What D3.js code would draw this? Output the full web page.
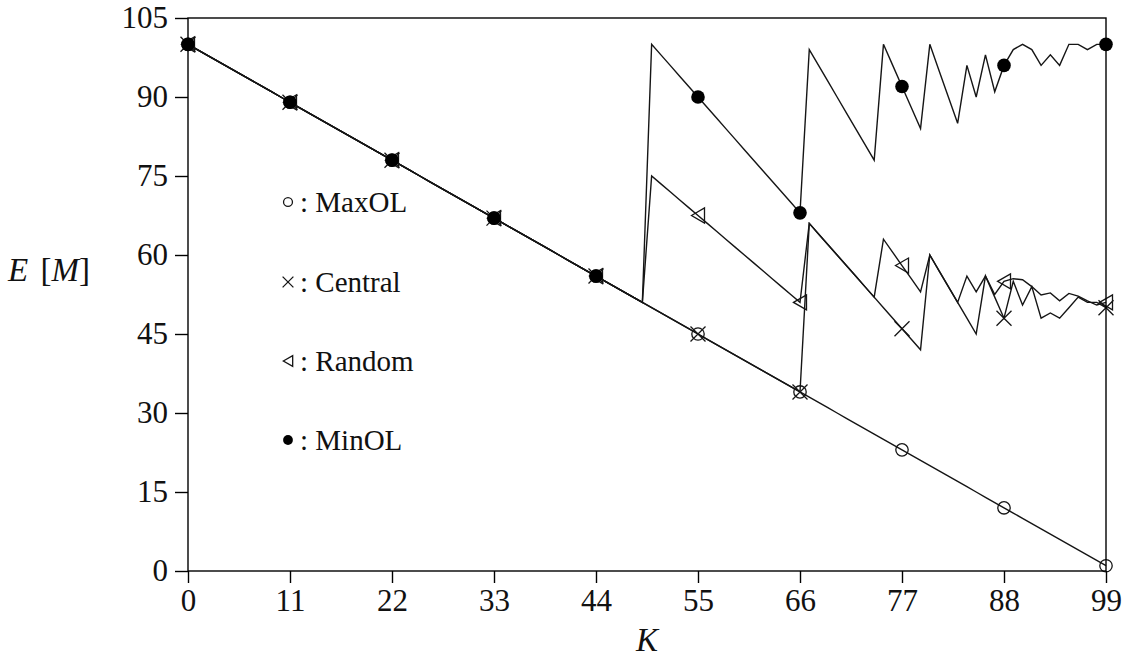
<!DOCTYPE html>
<html>
<head>
<meta charset="utf-8">
<script src="https://cdn.jsdelivr.net/npm/d3@7"></script>
<style>
  html, body { margin: 0; padding: 0; background: #fff; }
  svg { display: block; }
  text { font-family: "Liberation Serif", "DejaVu Serif", serif; fill: #111; }
</style>
</head>
<body>
<svg id="chart" width="1126" height="666"></svg>
<script>
// ---------- data ----------
const kValues = d3.range(0, 100);
const xTicks = [0, 11, 22, 33, 44, 55, 66, 77, 88, 99];
const yTicks = [0, 15, 30, 45, 60, 75, 90, 105];

const maxOL = [100,99,98,97,96,95,94,93,92,91,90,89,88,87,86,85,84,83,82,81,
  80,79,78,77,76,75,74,73,72,71,70,69,68,67,66,65,64,63,62,61,
  60,59,58,57,56,55,54,53,52,51,50,49,48,47,46,45,44,43,42,41,
  40,39,38,37,36,35,34,33,32,31,30,29,28,27,26,25,24,23,22,21,
  20,19,18,17,16,15,14,13,12,11,10,9,8,7,6,5,4,3,2,1];

const central = [100,99,98,97,96,95,94,93,92,91,90,89,88,87,86,85,84,83,82,81,
  80,79,78,77,76,75,74,73,72,71,70,69,68,67,66,65,64,63,62,61,
  60,59,58,57,56,55,54,53,52,51,50,49,48,47,46,45,44,43,42,41,
  40,39,38,37,36,35,34,66,64,62,60,58,56,54,52,50,48,46,44,42,
  60,57,54,51,48,45,56,52,48,55,50.5,54,48,49,48,50,52,51,51,50];

const random = [100,99,98,97,96,95,94,93,92,91,90,89,88,87,86,85,84,83,82,81,
  80,79,78,77,76,75,74,73,72,71,70,69,68,67,66,65,64,63,62,61,
  60,59,58,57,56,55,54,53,52,51,75,73.5,72,70.5,69,67.5,66,64.5,63,61.5,
  60,58.5,57,55.5,54,52.5,51,66,64,62,60,58,56,54,52,63,60.5,58,55.5,53,
  60,57,54,51,56,53,56,52.5,55,55.5,55.3,54,52.4,52.8,51.3,52.7,52.2,51.3,50.5,51];

const minOL = [100,99,98,97,96,95,94,93,92,91,90,89,88,87,86,85,84,83,82,81,
  80,79,78,77,76,75,74,73,72,71,70,69,68,67,66,65,64,63,62,61,
  60,59,58,57,56,55,54,53,52,51,100,98,96,94,92,90,88,86,84,82,
  80,78,76,74,72,70,68,99,96,93,90,87,84,81,78,100,96,92,88,84,
  100,95,90,85,96,90,98,91,96,99,100,99,96,98,96,100,100,99,100,100];

const seriesNames = ["MaxOL", "Central", "Random", "MinOL"];
const seriesValues = [maxOL, central, random, minOL];
const markerTypes = ["circle", "cross", "triangle", "dot"];

// ---------- layout ----------
const svg = d3.select("#chart");
const x = d3.scaleLinear().domain([0, 99]).range([188, 1106]);
const y = d3.scaleLinear().domain([0, 105]).range([571, 18]);
const ink = "#151515";

// lines
const line = d3.line().x((d, i) => x(kValues[i])).y(d => y(d));
svg.append("g").selectAll("path.series")
  .data(seriesValues)
  .join("path")
  .attr("class", "series")
  .attr("d", d => line(d))
  .attr("fill", "none")
  .attr("stroke", ink)
  .attr("stroke-width", 1.4)
  .attr("stroke-linejoin", "miter");

// markers
function drawMarker(g, type, cx, cy, s) {
  if (type === "circle") {
    g.append("circle").attr("cx", cx).attr("cy", cy).attr("r", 6.2 * s)
      .attr("fill", "none").attr("stroke", ink).attr("stroke-width", 1.3);
  } else if (type === "cross") {
    const h = 7.5 * s;
    g.append("path").attr("d", `M${cx - h},${cy - h}L${cx + h},${cy + h}M${cx - h},${cy + h}L${cx + h},${cy - h}`)
      .attr("stroke", ink).attr("stroke-width", 1.3).attr("fill", "none");
  } else if (type === "triangle") {
    const w = 6.5 * s, hh = 7.5 * s;
    g.append("path").attr("d", `M${cx - w},${cy}L${cx + w},${cy - hh}L${cx + w},${cy + hh}Z`)
      .attr("stroke", ink).attr("stroke-width", 1.3).attr("fill", "none");
  } else {
    g.append("circle").attr("cx", cx).attr("cy", cy).attr("r", 6.8 * s)
      .attr("fill", "#000").attr("stroke", "none");
  }
}
const mg = svg.append("g");
seriesValues.forEach((vals, si) => {
  xTicks.forEach(k => {
    drawMarker(mg, markerTypes[si], x(k), y(vals[k]), 1);
  });
});

// frame
svg.append("rect").attr("x", 188).attr("y", 18).attr("width", 1106 - 188).attr("height", 571 - 18)
  .attr("fill", "none").attr("stroke", "#000").attr("stroke-width", 1.4);

// axes
const yAxis = d3.axisLeft(y).tickValues(yTicks).tickSize(13).tickSizeOuter(0).tickPadding(7);
const gy = svg.append("g").attr("transform", "translate(188,0)").call(yAxis);
const xAxis = d3.axisBottom(x).tickValues(xTicks).tickSize(12).tickSizeOuter(0).tickPadding(6);
const gx = svg.append("g").attr("transform", "translate(0,571)").call(xAxis);
[gy, gx].forEach(g => {
  g.select(".domain").remove();
  g.selectAll(".tick line").attr("stroke", "#000").attr("stroke-width", 1.4);
  g.selectAll(".tick text").attr("font-family", "Liberation Serif, serif").attr("font-size", 31).attr("fill", "#111");
});

// axis titles
svg.append("text").attr("x", 647).attr("y", 651).attr("text-anchor", "middle")
  .attr("font-size", 33).attr("font-style", "italic").text("K");
const et = svg.append("text").attr("x", 8).attr("y", 281).attr("font-size", 33);
et.append("tspan").attr("font-style", "italic").text("E");
et.append("tspan").attr("dx", 4).text(" [");
et.append("tspan").attr("font-style", "italic").text("M");
et.append("tspan").text("]");

// legend
const legendY = [202, 282, 361, 440];
const lg = svg.append("g");
seriesNames.forEach((name, i) => {
  drawMarker(lg, markerTypes[i], 288, legendY[i], 0.72);
  lg.append("text").attr("x", 300).attr("y", legendY[i]).attr("dy", "0.35em")
    .attr("font-size", 29).text(": " + name);
});
</script>
</body>
</html>
